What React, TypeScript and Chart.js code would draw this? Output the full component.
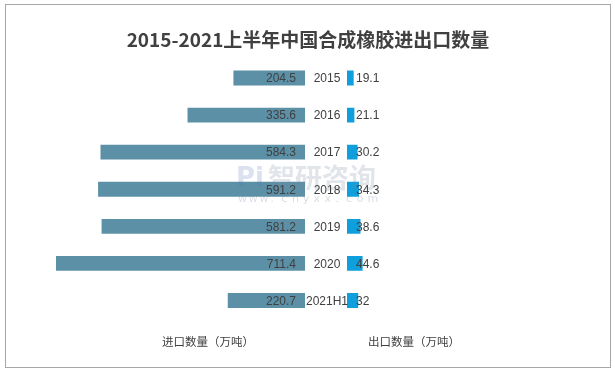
import React, { useEffect, useRef } from "react";
import { Chart, registerables } from "chart.js";

Chart.register(...registerables);

const categories = ["2015", "2016", "2017", "2018", "2019", "2020", "2021H1"];
const importValues = [204.5, 335.6, 584.3, 591.2, 581.2, 711.4, 220.7];
const exportValues = [19.1, 21.1, 30.2, 34.3, 38.6, 44.6, 32];
const titleText = "2015-2021上半年中国合成橡胶进出口数量";
const importAxisLabel = "进口数量（万吨）";
const exportAxisLabel = "出口数量（万吨）";
const GAP = 60;

const CJK = "'Noto Sans CJK SC', 'Noto Sans', sans-serif";
const NUM = "'Liberation Sans', 'Noto Sans CJK SC', sans-serif";
const TEXT = "#404040";

const overlayPlugin = {
  id: "overlay",
  afterDatasetsDraw(chart: any) {
    const ctx = chart.ctx;
    const xs = chart.scales.x;
    const ys = chart.scales.y;
    ctx.save();
    // watermark
    ctx.fillStyle = "rgba(120,135,160,0.22)";
    ctx.font = `bold 27px ${CJK}`;
    ctx.textAlign = "left";
    ctx.textBaseline = "middle";
    ctx.fillText("智研咨询", 268, 178);
    ctx.font = `bold 26px 'DejaVu Sans', sans-serif`;
    ctx.fillStyle = "rgba(90,120,180,0.22)";
    ctx.fillText("Pi", 236, 179);
    ctx.fillStyle = "rgba(120,135,160,0.28)";
    ctx.font = `11px 'DejaVu Sans', sans-serif`;
    const wm = "www.chyxx.com";
    let wx = 238;
    for (const ch of wm) {
      ctx.fillText(ch, wx, 199);
      wx += 10.8;
    }

    // labels
    ctx.fillStyle = TEXT;
    ctx.font = `12px ${NUM}`;
    ctx.textBaseline = "middle";
    categories.forEach((c, i) => {
      const py = ys.getPixelForValue(i) + 1;
      ctx.textAlign = "right";
      ctx.fillText(String(importValues[i]), xs.getPixelForValue(-GAP) - 9, py);
      ctx.textAlign = "center";
      ctx.fillText(c, xs.getPixelForValue(0) + 1, py);
      ctx.textAlign = "left";
      ctx.fillText(String(exportValues[i]), xs.getPixelForValue(GAP) + 9, py);
    });
    ctx.restore();
  },
  afterDraw(chart: any) {
    const ctx = chart.ctx;
    ctx.save();
    ctx.strokeStyle = "#a6a6a6";
    ctx.lineWidth = 1;
    ctx.strokeRect(5.5, 4.5, 605, 363);
    ctx.fillStyle = TEXT;
    ctx.font = `bold 19px ${CJK}`;
    ctx.textAlign = "center";
    ctx.textBaseline = "middle";
    ctx.fillText(titleText, 308, 40);
    ctx.font = `11.5px ${CJK}`;
    ctx.textAlign = "left";
    ctx.fillText(importAxisLabel, 162, 342);
    ctx.fillText(exportAxisLabel, 368, 342);
    ctx.restore();
  },
};

export default function App() {
  const ref = useRef<HTMLCanvasElement | null>(null);
  useEffect(() => {
    if (!ref.current) return;
    const chart = new Chart(ref.current, {
      type: "bar",
      data: {
        labels: categories,
        datasets: [
          {
            label: importAxisLabel,
            data: importValues.map((v) => [-GAP - v, -GAP]) as any,
            backgroundColor: "#5b90a6",
            grouped: false,
            barPercentage: 0.4,
            categoryPercentage: 1,
          } as any,
          {
            label: exportAxisLabel,
            data: exportValues.map((v) => [GAP, GAP + v]) as any,
            backgroundColor: "#0f9fdc",
            grouped: false,
            barPercentage: 0.4,
            categoryPercentage: 1,
          } as any,
        ],
      },
      options: {
        indexAxis: "y",
        responsive: false,
        animation: false,
        devicePixelRatio: 1,
        layout: { padding: { left: 46, right: 9, top: 59.5, bottom: 53 } },
        scales: {
          x: { display: false, min: -800, max: 800 },
          y: { display: false, offset: true },
        },
        plugins: {
          legend: { display: false },
          title: { display: false },
          tooltip: { enabled: false },
        },
      },
      plugins: [overlayPlugin],
    });
    return () => chart.destroy();
  }, []);
  return (
    <div style={{ position: "fixed", left: 0, top: 0, width: 615, height: 372, background: "#fff" }}>
      <canvas ref={ref} width={615} height={372} style={{ display: "block", width: 615, height: 372 }} />
    </div>
  );
}
